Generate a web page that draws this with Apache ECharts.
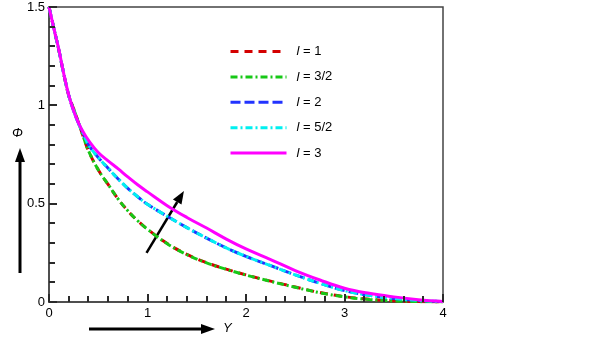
<!DOCTYPE html>
<html>
<head>
<meta charset="utf-8">
<script src="https://cdn.jsdelivr.net/npm/echarts@6/dist/echarts.min.js"></script>
<style>
  html, body { margin: 0; padding: 0; background: #fff; }
  #chart { width: 602px; height: 341px; }
</style>
</head>
<body>
<div id="chart"></div>
<script>
// Y positions where the curves were sampled
const yPoints = [0, 0.05, 0.1, 0.15, 0.2, 0.25, 0.3, 0.35, 0.4, 0.5, 0.6, 0.7, 0.8, 0.9, 1.0,
  1.2, 1.4, 1.6, 1.8, 2.0, 2.25, 2.5, 2.75, 3.0, 3.25, 3.5, 3.75, 4.0];

// Phi for each l
const phiL1 = [1.5, 1.39, 1.28, 1.16, 1.05, 0.982, 0.912, 0.838, 0.77, 0.672, 0.598, 0.525, 0.464, 0.413, 0.37,
  0.297, 0.242, 0.2, 0.167, 0.138, 0.106, 0.076, 0.048, 0.027, 0.014, 0.006, 0.002, 0.0];
const phiL15 = [1.5, 1.39, 1.28, 1.16, 1.05, 0.982, 0.912, 0.838, 0.77, 0.672, 0.598, 0.525, 0.464, 0.413, 0.37,
  0.296, 0.241, 0.199, 0.166, 0.137, 0.105, 0.075, 0.047, 0.026, 0.013, 0.006, 0.002, 0.0];
const phiL2 = [1.5, 1.39, 1.282, 1.16, 1.052, 0.972, 0.908, 0.855, 0.8, 0.735, 0.68, 0.627, 0.578, 0.535, 0.497,
  0.436, 0.378, 0.325, 0.275, 0.232, 0.185, 0.138, 0.095, 0.058, 0.034, 0.018, 0.008, 0.002];
const phiL25 = [1.5, 1.39, 1.282, 1.16, 1.052, 0.972, 0.908, 0.855, 0.8, 0.735, 0.68, 0.627, 0.578, 0.535, 0.497,
  0.436, 0.378, 0.325, 0.275, 0.232, 0.185, 0.138, 0.095, 0.058, 0.034, 0.018, 0.008, 0.002];
const phiL3 = [1.5, 1.39, 1.283, 1.16, 1.053, 0.972, 0.91, 0.862, 0.823, 0.76, 0.718, 0.678, 0.636, 0.596, 0.56,
  0.49, 0.43, 0.376, 0.32, 0.27, 0.216, 0.16, 0.112, 0.07, 0.044, 0.026, 0.012, 0.003];

const lLabels = ['1', '3/2', '2', '5/2', '3'];
const xTicks = [0, 1, 2, 3, 4];
const yTicks = [0, 0.5, 1, 1.5];
const xMinorStep = 0.2;
const yMinorStep = 0.1;

const styles = [
  { color: '#d40000', type: [8, 6] },
  { color: '#16c816', type: [7, 3, 2, 3] },
  { color: '#2233ff', type: [10, 4] },
  { color: '#00f0f0', type: [7, 3, 2, 3] },
  { color: '#ff00ff', type: 'solid' }
];
const allPhi = [phiL1, phiL15, phiL2, phiL25, phiL3];

const FONT = '"Liberation Sans", Arial, sans-serif';
const chart = echarts.init(document.getElementById('chart'));

const axisCommon = {
  type: 'value',
  axisLine: { show: true, onZero: false, lineStyle: { color: '#444', width: 1.5 } },
  axisTick: { show: false },
  splitLine: { show: false }
};

chart.setOption({
  animation: false,
  backgroundColor: '#fff',
  grid: {
    left: 49, right: 159, top: 7, bottom: 39,
    show: true, backgroundColor: 'transparent', borderColor: '#444', borderWidth: 1.5
  },
  legend: {
    orient: 'vertical',
    left: 229,
    top: 45,
    padding: 0,
    itemWidth: 56,
    itemHeight: 14,
    itemGap: 12.4,
    itemStyle: { color: 'transparent', borderWidth: 0, opacity: 0 },
    lineStyle: { width: 3 },
    data: lLabels.map(v => 'l = ' + v),
    formatter: name => '{i|l}{n| ' + name.slice(2) + '}',
    textStyle: {
      fontFamily: FONT,
      fontSize: 13,
      color: '#000',
      rich: {
        i: { fontStyle: 'italic', fontSize: 13, fontFamily: FONT, color: '#000', padding: [0, 0, 0, 5] },
        n: { fontSize: 13, fontFamily: FONT, color: '#000' }
      }
    }
  },
  xAxis: Object.assign({}, axisCommon, {
    min: 0, max: 4, interval: 1,
    axisLabel: {
      margin: 5, color: '#000', fontSize: 13, fontFamily: FONT,
      formatter: v => xTicks.includes(v) ? String(v) : ''
    }
  }),
  yAxis: Object.assign({}, axisCommon, {
    min: 0, max: 1.5, interval: 0.5,
    axisLabel: {
      margin: 4, color: '#000', fontSize: 13, fontFamily: FONT,
      formatter: v => yTicks.includes(v) ? String(v) : ''
    }
  }),
  series: lLabels.map((v, i) => ({
    name: 'l = ' + v,
    type: 'line',
    symbol: 'none',
    showSymbol: false,
    smooth: 0.4,
    lineStyle: { color: styles[i].color, width: 3, type: styles[i].type },
    itemStyle: { color: styles[i].color },
    data: yPoints.map((y, k) => [y, allPhi[i][k]])
  }))
});

// inward ticks on bottom and left axes, placed through the axis scales
const toPx = p => chart.convertToPixel({ gridIndex: 0 }, p);
const tickEls = [];
for (let k = 0; k <= 20; k++) {
  const v = +(k * xMinorStep).toFixed(2);
  const len = xTicks.includes(v) ? 8 : 6;
  const p = toPx([v, 0]);
  tickEls.push({
    type: 'rect', silent: true, z: 100,
    shape: { x: Math.round(p[0]) - 1, y: p[1] - len, width: 2, height: len },
    style: { fill: '#2a2a2a' }
  });
}
for (let k = 0; k <= 15; k++) {
  const v = +(k * yMinorStep).toFixed(2);
  const len = yTicks.includes(v) ? 8 : 6;
  const p = toPx([0, v]);
  tickEls.push({
    type: 'rect', silent: true, z: 100,
    shape: { x: p[0], y: Math.round(p[1]) - 1, width: len, height: 2 },
    style: { fill: '#2a2a2a' }
  });
}

// annotation arrows and axis titles
const p0 = toPx([0.99, 0.25]);
const p1 = toPx([1.37, 0.565]);
const ang = Math.atan2(p1[1] - p0[1], p1[0] - p0[0]);
const head = 13, half = 5;
const base = [p1[0] - head * Math.cos(ang), p1[1] - head * Math.sin(ang)];
const nx = -Math.sin(ang), ny = Math.cos(ang);

chart.setOption({
  graphic: {
    elements: tickEls.concat([
      {
        type: 'line',
        shape: { x1: p0[0], y1: p0[1], x2: base[0], y2: base[1] },
        style: { stroke: '#000', lineWidth: 2.5 }
      },
      {
        type: 'polygon',
        shape: { points: [p1, [base[0] + nx * half, base[1] + ny * half], [base[0] - nx * half, base[1] - ny * half]] },
        style: { fill: '#000' }
      },
      // vertical arrow beside Phi
      {
        type: 'line',
        shape: { x1: 20, y1: 273, x2: 20, y2: 160 },
        style: { stroke: '#000', lineWidth: 3 }
      },
      {
        type: 'polygon',
        shape: { points: [[20, 148], [15, 162], [25, 162]] },
        style: { fill: '#000' }
      },
      {
        type: 'text',
        left: 12, top: 127,
        style: { text: 'Φ', font: 'italic 13px ' + FONT, fill: '#000' }
      },
      // horizontal arrow beside Y
      {
        type: 'line',
        shape: { x1: 89, y1: 329, x2: 202, y2: 329 },
        style: { stroke: '#000', lineWidth: 3 }
      },
      {
        type: 'polygon',
        shape: { points: [[215, 329], [201, 324], [201, 334]] },
        style: { fill: '#000' }
      },
      {
        type: 'text',
        left: 223, top: 322,
        style: { text: 'Y', font: 'italic 13px ' + FONT, fill: '#000' }
      }
    ])
  }
});
</script>
</body>
</html>
